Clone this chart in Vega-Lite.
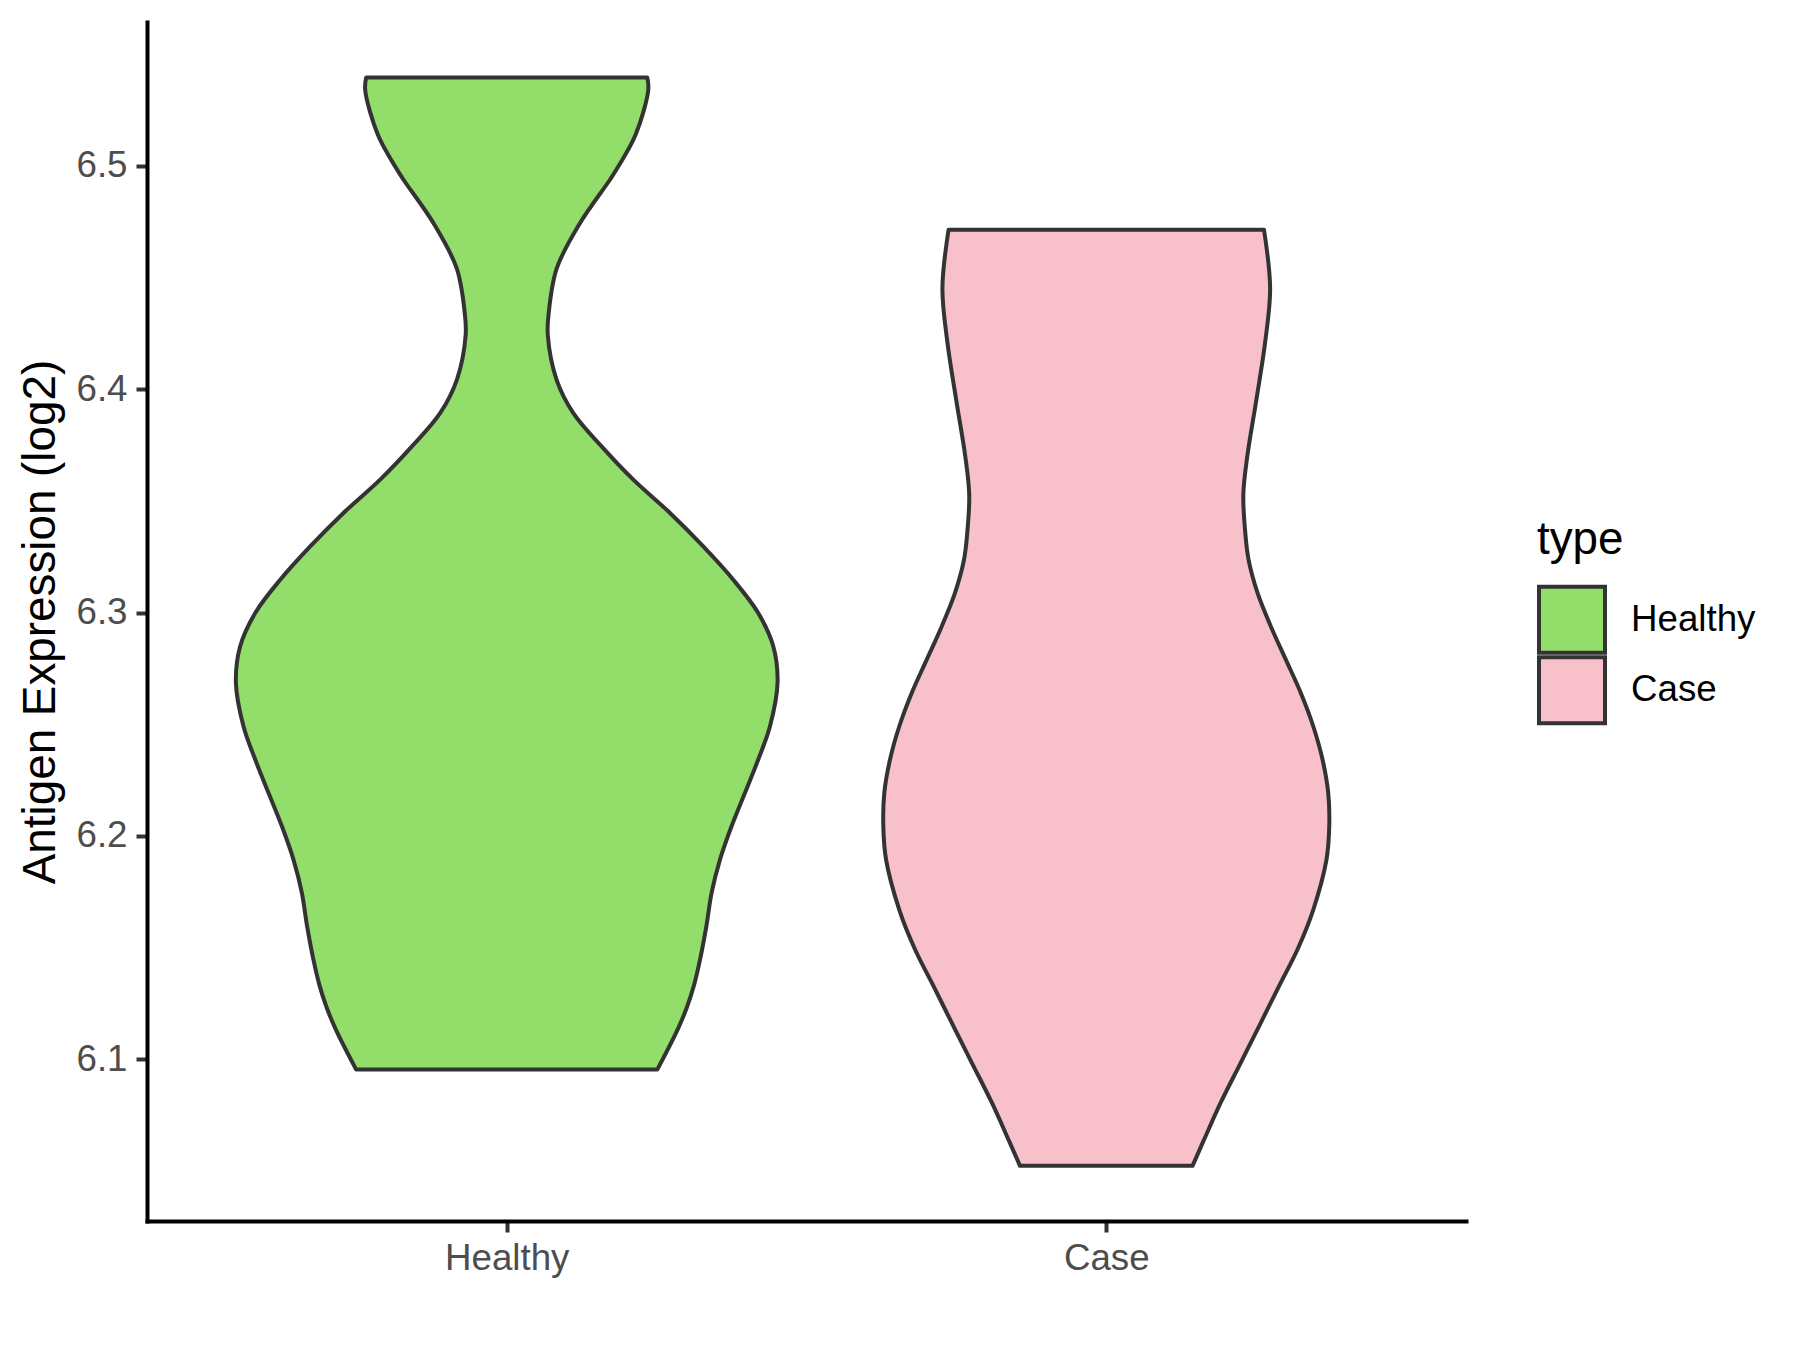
{
  "$schema": "https://vega.github.io/schema/vega-lite/v6.json",
  "autosize": {"type": "none"},
  "width": 1319,
  "height": 1199,
  "padding": {"left": 147, "top": 22, "right": 334, "bottom": 129},
  "background": "white",
  "config": {"view": {"stroke": null}, "font": "Liberation Sans"},
  "data": {
    "values": [
      {"type": "Healthy", "v": 6.5396, "lo": 0.7656, "hi": 1.2344},
      {"type": "Healthy", "v": 6.5340, "lo": 0.7639, "hi": 1.2361},
      {"type": "Healthy", "v": 6.5140, "lo": 0.7849, "hi": 1.2151},
      {"type": "Healthy", "v": 6.5000, "lo": 0.8132, "hi": 1.1868},
      {"type": "Healthy", "v": 6.4940, "lo": 0.8273, "hi": 1.1727},
      {"type": "Healthy", "v": 6.4741, "lo": 0.8784, "hi": 1.1216},
      {"type": "Healthy", "v": 6.4541, "lo": 0.9166, "hi": 1.0834},
      {"type": "Healthy", "v": 6.4341, "lo": 0.9300, "hi": 1.0700},
      {"type": "Healthy", "v": 6.4242, "lo": 0.9315, "hi": 1.0685},
      {"type": "Healthy", "v": 6.4042, "lo": 0.9168, "hi": 1.0832},
      {"type": "Healthy", "v": 6.3893, "lo": 0.8889, "hi": 1.1111},
      {"type": "Healthy", "v": 6.3744, "lo": 0.8418, "hi": 1.1582},
      {"type": "Healthy", "v": 6.3595, "lo": 0.7889, "hi": 1.2111},
      {"type": "Healthy", "v": 6.3446, "lo": 0.7277, "hi": 1.2723},
      {"type": "Healthy", "v": 6.3296, "lo": 0.6722, "hi": 1.3278},
      {"type": "Healthy", "v": 6.3147, "lo": 0.6222, "hi": 1.3778},
      {"type": "Healthy", "v": 6.2998, "lo": 0.5805, "hi": 1.4195},
      {"type": "Healthy", "v": 6.2849, "lo": 0.5554, "hi": 1.4446},
      {"type": "Healthy", "v": 6.2685, "lo": 0.5483, "hi": 1.4517},
      {"type": "Healthy", "v": 6.2491, "lo": 0.5609, "hi": 1.4391},
      {"type": "Healthy", "v": 6.2342, "lo": 0.5805, "hi": 1.4195},
      {"type": "Healthy", "v": 6.2193, "lo": 0.6026, "hi": 1.3974},
      {"type": "Healthy", "v": 6.2043, "lo": 0.6250, "hi": 1.3750},
      {"type": "Healthy", "v": 6.1894, "lo": 0.6443, "hi": 1.3557},
      {"type": "Healthy", "v": 6.1745, "lo": 0.6583, "hi": 1.3417},
      {"type": "Healthy", "v": 6.1596, "lo": 0.6670, "hi": 1.3330},
      {"type": "Healthy", "v": 6.1447, "lo": 0.6775, "hi": 1.3225},
      {"type": "Healthy", "v": 6.1333, "lo": 0.6875, "hi": 1.3125},
      {"type": "Healthy", "v": 6.1233, "lo": 0.6995, "hi": 1.3005},
      {"type": "Healthy", "v": 6.1133, "lo": 0.7150, "hi": 1.2850},
      {"type": "Healthy", "v": 6.0954, "lo": 0.7489, "hi": 1.2511},
      {"type": "Case", "v": 6.4714, "lo": 1.7369, "hi": 2.2631},
      {"type": "Case", "v": 6.4452, "lo": 1.7267, "hi": 2.2733},
      {"type": "Case", "v": 6.4212, "lo": 1.7349, "hi": 2.2651},
      {"type": "Case", "v": 6.3955, "lo": 1.7495, "hi": 2.2505},
      {"type": "Case", "v": 6.3698, "lo": 1.7649, "hi": 2.2351},
      {"type": "Case", "v": 6.3528, "lo": 1.7714, "hi": 2.2286},
      {"type": "Case", "v": 6.3356, "lo": 1.7681, "hi": 2.2319},
      {"type": "Case", "v": 6.3237, "lo": 1.7627, "hi": 2.2373},
      {"type": "Case", "v": 6.3088, "lo": 1.7477, "hi": 2.2523},
      {"type": "Case", "v": 6.2938, "lo": 1.7255, "hi": 2.2745},
      {"type": "Case", "v": 6.2789, "lo": 1.7005, "hi": 2.2995},
      {"type": "Case", "v": 6.2640, "lo": 1.6755, "hi": 2.3245},
      {"type": "Case", "v": 6.2491, "lo": 1.6548, "hi": 2.3452},
      {"type": "Case", "v": 6.2342, "lo": 1.6393, "hi": 2.3607},
      {"type": "Case", "v": 6.2193, "lo": 1.6298, "hi": 2.3702},
      {"type": "Case", "v": 6.2043, "lo": 1.6281, "hi": 2.3719},
      {"type": "Case", "v": 6.1894, "lo": 1.6327, "hi": 2.3673},
      {"type": "Case", "v": 6.1666, "lo": 1.6552, "hi": 2.3448},
      {"type": "Case", "v": 6.1494, "lo": 1.6807, "hi": 2.3193},
      {"type": "Case", "v": 6.1323, "lo": 1.7127, "hi": 2.2873},
      {"type": "Case", "v": 6.1152, "lo": 1.7444, "hi": 2.2556},
      {"type": "Case", "v": 6.0981, "lo": 1.7764, "hi": 2.2236},
      {"type": "Case", "v": 6.0810, "lo": 1.8084, "hi": 2.1916},
      {"type": "Case", "v": 6.0639, "lo": 1.8371, "hi": 2.1629},
      {"type": "Case", "v": 6.0523, "lo": 1.8561, "hi": 2.1439}
    ]
  },
  "mark": {
    "type": "area",
    "orient": "horizontal",
    "interpolate": "catmull-rom",
    "stroke": "#333333",
    "strokeWidth": 4,
    "strokeJoin": "round",
    "fillOpacity": 1
  },
  "encoding": {
    "y": {
      "field": "v",
      "type": "quantitative",
      "scale": {"domain": [6.0276, 6.5644], "nice": false, "zero": false},
      "axis": {
        "title": "Antigen Expression (log2)",
        "values": [6.1, 6.2, 6.3, 6.4, 6.5],
        "format": ".1f",
        "grid": false,
        "domainColor": "black",
        "domainWidth": 4,
        "domainCap": "square",
        "tickColor": "#333333",
        "tickWidth": 4,
        "tickSize": 11,
        "labelColor": "#4D4D4D",
        "labelFontSize": 36.7,
        "labelFont": "Liberation Sans",
        "labelPadding": 9,
        "titleFont": "Liberation Sans",
        "titleFontSize": 45.8,
        "titleFontWeight": "normal",
        "titleColor": "black",
        "titleAngle": 270,
        "titleX": -93,
        "titleY": 599.5,
        "titleAlign": "center",
        "titleBaseline": "alphabetic"
      }
    },
    "x": {
      "field": "lo",
      "type": "quantitative",
      "scale": {"domain": [0.4, 2.6], "nice": false, "zero": false},
      "axis": {
        "title": null,
        "values": [1, 2],
        "labelExpr": "datum.value == 1 ? 'Healthy' : 'Case'",
        "grid": false,
        "domainColor": "black",
        "domainWidth": 4,
        "domainCap": "square",
        "tickColor": "#333333",
        "tickWidth": 4,
        "tickSize": 11,
        "labelColor": "#4D4D4D",
        "labelFontSize": 36.7,
        "labelFont": "Liberation Sans",
        "labelPadding": 8
      }
    },
    "x2": {"field": "hi"},
    "color": {
      "field": "type",
      "type": "nominal",
      "scale": {"domain": ["Healthy", "Case"], "range": ["#93DD6B", "#F7C0CB"]},
      "legend": {
        "title": "type",
        "orient": "none",
        "legendX": 1390,
        "legendY": 496,
        "padding": 0,
        "titleFont": "Liberation Sans",
        "titleFontSize": 45.8,
        "titleFontWeight": "normal",
        "titleColor": "black",
        "titlePadding": 21,
        "labelFont": "Liberation Sans",
        "labelFontSize": 36.7,
        "labelColor": "black",
        "labelOffset": 24,
        "symbolType": "square",
        "symbolSize": 4356,
        "symbolStrokeColor": "#333333",
        "symbolStrokeWidth": 4,
        "symbolFillOpacity": 1,
        "symbolOpacity": 1,
        "gridAlign": "none",
        "rowPadding": -11.5
      }
    }
  }
}
